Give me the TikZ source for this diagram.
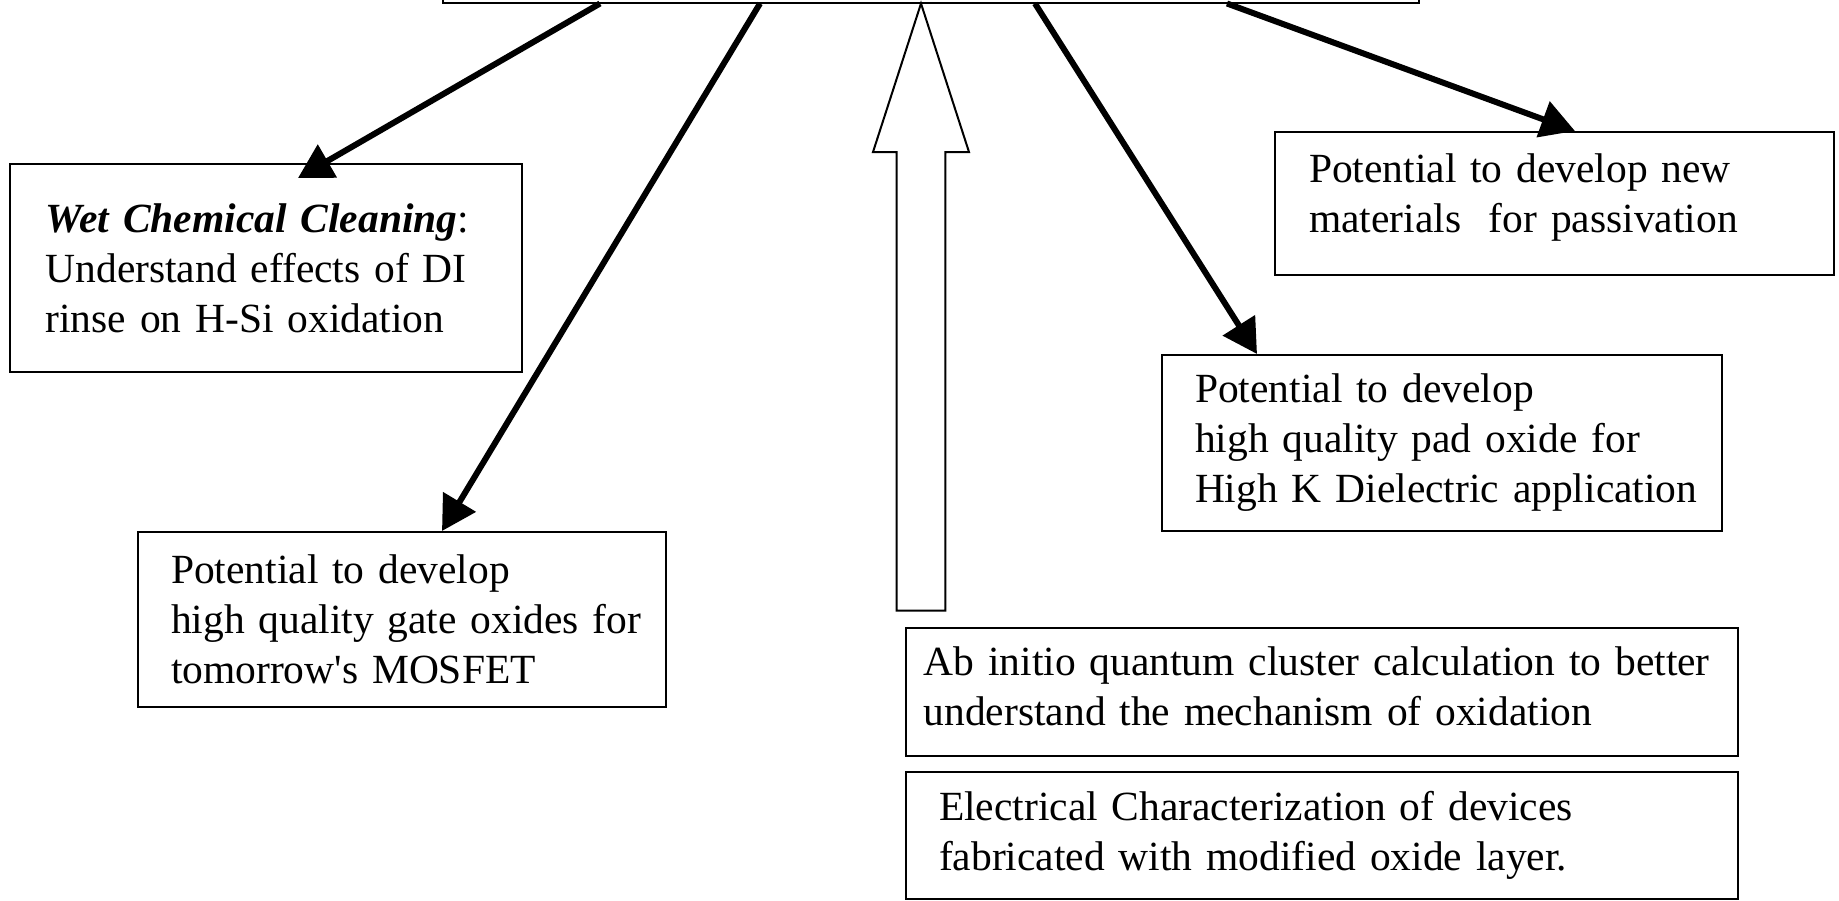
\documentclass[tikz,border=0pt]{standalone}
\usepackage{fontspec}
\setmainfont{Liberation Serif}
\usetikzlibrary{arrows.meta}

\tikzset{
    box/.style={draw, line width=2pt, anchor=north west, align=left,
        inner ysep=0pt, font=\fontsize{41.5}{50}\selectfont},
    conn/.style={line width=6pt, -{Triangle[length=34pt,width=37pt]}},
    hollow/.style={line width=2pt, line join=miter}
}

\begin{document}
\begin{tikzpicture}[x=1pt,y=-1pt]
            \useasboundingbox (0,0) rectangle (1839,900);
            \clip (0,0) rectangle (1839,900);

            \node[draw, line width=2pt, anchor=south west, inner sep=0pt,
                minimum width=976.5pt, minimum height=150pt] (top) at (441.5,3.5) {};

            \node[box, minimum height=208pt, inner xsep=35.6pt, text width=440.8pt] (wet) at (9,163)
                {\textbf{\textit{Wet Chemical Cleaning}}:\\Understand effects of DI\\rinse on H-Si oxidation};
            \node[box, minimum height=175pt, inner xsep=33pt, text width=462pt] (gate) at (137,531)
                {Potential to develop\\\mbox{high quality gate oxides for}\\tomorrow\textquotesingle s MOSFET};
            \node[box, minimum height=176pt, inner xsep=33pt, text width=494pt] (pad) at (1161,354)
                {Potential to develop\\high quality pad oxide for\\\mbox{High K Dielectric application}};
            \node[box, minimum height=143pt, inner xsep=34pt, text width=491pt, text depth=70pt] (pass) at (1274,131)
                {Potential to develop new\\materials\ \ for passivation};
            \node[box, minimum height=128pt, inner xsep=17.7pt, text width=796.6pt, text depth=61pt] (abinitio) at (905,627)
                {\mbox{Ab initio quantum cluster calculation to better}\\understand the mechanism of oxidation};
            \node[box, minimum height=127pt, inner xsep=33pt, text width=766pt] (elec) at (905,771)
                {Electrical Characterization of devices\\fabricated with modified oxide layer.};

            \draw[conn] ([xshift=158.5pt]top.south west) -- ([xshift=289pt,yshift=-15pt]wet.north west);
            \draw[conn] ([xshift=318.5pt]top.south west) -- ([xshift=305pt]gate.north west);
            \draw[conn] ([xshift=593.5pt]top.south west) -- ([xshift=96pt]pad.north west);
            \draw[conn] ([xshift=785.5pt]top.south west) -- ([xshift=301pt]pass.north west);

            \coordinate (tip) at ([xshift=479.5pt]top.south west);
            \draw[hollow] (tip) -- ++(48,148.5) -- ++(-23.7,0) -- ++(0,458.5) -- ++(-48.6,0)
                -- ++(0,-458.5) -- ++(-23.7,0) -- cycle;
\end{tikzpicture}
\end{document}
